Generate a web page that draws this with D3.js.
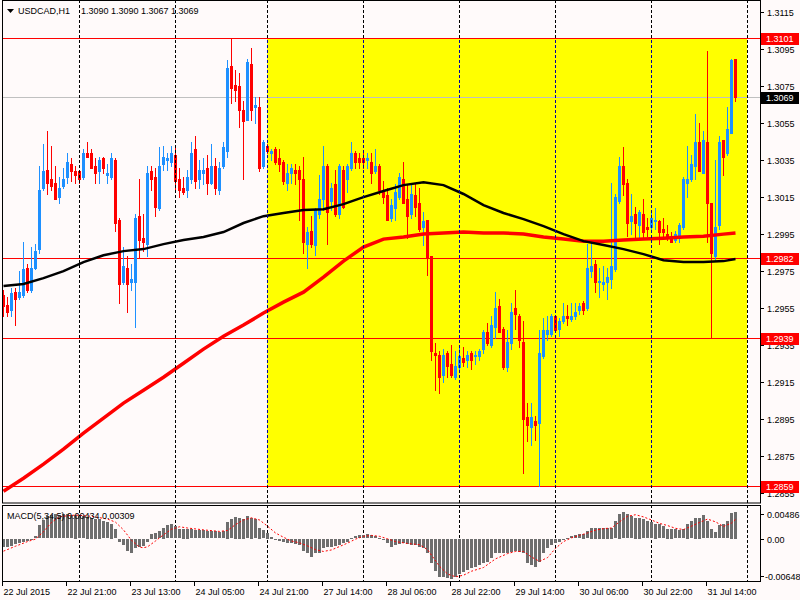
<!DOCTYPE html>
<html><head><meta charset="utf-8">
<script src="https://cdn.jsdelivr.net/npm/d3@7"></script>
<style>
body{margin:0;background:#FFFAFA;}
svg{display:block}
text{font-family:"Liberation Sans",Arial,sans-serif;font-size:9px;}
</style>
</head><body><svg id="c" width="800" height="600"></svg>
<script>
// ---------- DATA ----------
const symbolTitle = "USDCAD,H1";
const titleValues = "1.3090 1.3090 1.3067 1.3069";
const macdTitle = "MACD(5,34,5) 0.00434 0.00309";

const open = [1.2962,1.2957,1.2954,1.2964,1.2961,1.2962,1.2977,1.2965,1.2977,1.2987,
1.3020,1.3030,1.3025,1.3023,1.3015,1.3021,1.3026,1.3033,1.3029,1.3029,
1.3026,1.3039,1.3039,1.3032,1.3029,1.3036,1.3027,1.3026,1.3035,1.3003,
1.2969,1.2977,1.2969,1.2969,1.3005,1.2993,1.2990,1.3029,1.3026,1.3009,
1.3033,1.3035,1.3034,1.3038,1.3025,1.3020,1.3019,1.3025,1.3041,1.3025,
1.3028,1.3031,1.3023,1.3032,1.3019,1.3032,1.3040,1.3086,1.3076,1.3075,
1.3062,1.3057,1.3087,1.3064,1.3064,1.3032,1.3043,1.3039,1.3041,1.3036,
1.3034,1.3023,1.3028,1.3030,1.3030,1.3025,1.2990,1.2997,1.2989,1.3006,
1.3014,1.3032,1.3013,1.3022,1.3006,1.3030,1.3025,1.3031,1.3039,1.3036,
1.3036,1.3035,1.3034,1.3029,1.3032,1.3018,1.3016,1.3004,1.3009,1.3015,
1.3025,1.3014,1.3006,1.3016,1.3012,1.2999,1.3003,1.2983,1.2931,1.2930,
1.2919,1.2931,1.2925,1.2918,1.2923,1.2928,1.2927,1.2931,1.2929,1.2929,
1.2933,1.2942,1.2935,1.2945,1.2956,1.2944,1.2923,1.2936,1.2955,1.2951,
1.2937,1.2896,1.2891,1.2894,1.2893,1.2929,1.2941,1.2941,1.2951,1.2944,
1.2948,1.2951,1.2949,1.2951,1.2954,1.2958,1.2955,1.2975,1.2979,1.2969,
1.2968,1.2969,1.2971,1.2976,1.3013,1.3032,1.3023,1.3002,1.3006,1.3000,
1.3006,1.2999,1.2999,1.3002,1.3002,1.2998,1.2995,1.2993,1.2992,1.2993,
1.2999,1.3023,1.3025,1.3032,1.3045,1.3028,1.3045,1.3012,1.2983,1.3000,
1.3046,1.3039,1.3050,1.3090];
const high = [1.2965,1.2961,1.2966,1.2966,1.2975,1.2991,1.2979,1.2988,1.2990,1.3032,
1.3044,1.3051,1.3043,1.3032,1.3026,1.3031,1.3039,1.3036,1.3032,1.3030,
1.3041,1.3045,1.3041,1.3036,1.3037,1.3037,1.3033,1.3039,1.3036,1.3004,
1.2988,1.2983,1.2979,1.3006,1.3025,1.3006,1.3032,1.3032,1.3031,1.3042,
1.3043,1.3039,1.3043,1.3043,1.3031,1.3026,1.3030,1.3045,1.3048,1.3035,
1.3036,1.3038,1.3044,1.3036,1.3034,1.3045,1.3089,1.3101,1.3084,1.3082,
1.3067,1.3090,1.3096,1.3069,1.3069,1.3046,1.3044,1.3041,1.3042,1.3041,
1.3035,1.3033,1.3033,1.3033,1.3032,1.3037,1.2999,1.3005,1.3009,1.3027,
1.3043,1.3033,1.3023,1.3030,1.3033,1.3032,1.3033,1.3045,1.3040,1.3039,
1.3039,1.3039,1.3039,1.3041,1.3033,1.3024,1.3020,1.3014,1.3022,1.3028,
1.3034,1.3022,1.3022,1.3023,1.3020,1.3007,1.3003,1.2983,1.2936,1.2932,
1.2933,1.2932,1.2935,1.2932,1.2934,1.2934,1.2932,1.2932,1.2932,1.2933,
1.2943,1.2947,1.2951,1.2964,1.2960,1.2945,1.2943,1.2958,1.2965,1.2952,
1.2948,1.2904,1.2904,1.2897,1.2943,1.2950,1.2951,1.2952,1.2951,1.2950,
1.2958,1.2957,1.2958,1.2958,1.2958,1.2959,1.2990,1.2991,1.2981,1.2977,
1.2978,1.2977,1.3023,1.3017,1.3037,1.3042,1.3025,1.3017,1.3010,1.3008,
1.3014,1.3004,1.3007,1.3009,1.3003,1.3004,1.3000,1.2996,1.2997,1.3001,
1.3026,1.3043,1.3038,1.3060,1.3055,1.3051,1.3094,1.3012,1.3035,1.3048,
1.3046,1.3064,1.3090,1.3090];
const low = [1.2951,1.2951,1.2951,1.2946,1.2960,1.2961,1.2964,1.2964,1.2976,1.2985,
1.3019,1.3017,1.3019,1.3014,1.3012,1.3020,1.3023,1.3024,1.3023,1.3023,
1.3025,1.3037,1.3031,1.3023,1.3023,1.3028,1.3023,1.3025,1.2997,1.2958,
1.2968,1.2953,1.2965,1.2945,1.2982,1.2986,1.2983,1.3019,1.3005,1.3008,
1.3030,1.3030,1.3032,1.3019,1.3015,1.3017,1.3015,1.3023,1.3020,1.3020,
1.3022,1.3017,1.3022,1.3017,1.3017,1.3031,1.3037,1.3066,1.3067,1.3053,
1.3025,1.3057,1.3057,1.3055,1.3029,1.3031,1.3039,1.3035,1.3033,1.3029,
1.3022,1.3019,1.3023,1.3022,1.3003,1.2985,1.2977,1.2988,1.2984,1.3004,
1.3008,1.2990,1.3008,1.3005,1.3004,1.3009,1.3018,1.3030,1.3031,1.3031,
1.3031,1.3031,1.3023,1.3028,1.3017,1.3012,1.3003,1.3002,1.3003,1.3014,
1.3012,1.2993,1.3004,1.3005,1.2997,1.2989,1.2973,1.2927,1.2911,1.2909,
1.2915,1.2918,1.2918,1.2917,1.2922,1.2924,1.2923,1.2922,1.2925,1.2927,
1.2931,1.2935,1.2934,1.2939,1.2942,1.2922,1.2921,1.2933,1.2944,1.2934,
1.2866,1.2883,1.2881,1.2884,1.2859,1.2928,1.2938,1.2940,1.2942,1.2940,
1.2947,1.2946,1.2948,1.2949,1.2952,1.2952,1.2954,1.2972,1.2964,1.2961,
1.2965,1.2960,1.2966,1.2975,1.3012,1.3016,1.2994,1.2995,1.2992,1.2993,
1.2993,1.2994,1.2996,1.2998,1.2990,1.2994,1.2992,1.2991,1.2991,1.2991,
1.2998,1.3015,1.3024,1.3025,1.3029,1.3028,1.2991,1.2939,1.2981,1.2998,
1.3027,1.3038,1.3050,1.3067];
const close = [1.2956,1.2953,1.2963,1.2960,1.2964,1.2976,1.2965,1.2977,1.2986,1.3019,
1.3029,1.3023,1.3021,1.3014,1.3020,1.3025,1.3034,1.3029,1.3027,1.3025,
1.3039,1.3037,1.3031,1.3028,1.3035,1.3031,1.3028,1.3036,1.3001,1.2968,
1.2978,1.2968,1.2971,1.3004,1.2992,1.2991,1.3028,1.3025,1.3010,1.3032,
1.3037,1.3036,1.3039,1.3024,1.3019,1.3018,1.3026,1.3039,1.3024,1.3030,
1.3030,1.3023,1.3032,1.3020,1.3031,1.3042,1.3085,1.3074,1.3073,1.3062,
1.3056,1.3088,1.3062,1.3065,1.3031,1.3045,1.3040,1.3040,1.3034,1.3033,
1.3024,1.3028,1.3031,1.3028,1.3025,1.2991,1.2996,1.2990,1.3008,1.3014,
1.3032,1.3007,1.3020,1.3006,1.3032,1.3010,1.3032,1.3039,1.3034,1.3034,
1.3034,1.3036,1.3028,1.3032,1.3019,1.3015,1.3003,1.3011,1.3018,1.3026,
1.3012,1.3005,1.3017,1.3010,1.2998,1.3002,1.2982,1.2932,1.2930,1.2918,
1.2930,1.2924,1.2919,1.2924,1.2929,1.2926,1.2930,1.2927,1.2930,1.2932,
1.2942,1.2936,1.2946,1.2955,1.2942,1.2923,1.2937,1.2953,1.2952,1.2938,
1.2895,1.2892,1.2896,1.2892,1.2931,1.2943,1.2943,1.2951,1.2943,1.2948,
1.2951,1.2950,1.2951,1.2953,1.2956,1.2954,1.2977,1.2978,1.2969,1.2970,
1.2969,1.2972,1.2978,1.3015,1.3032,1.3022,1.3001,1.3005,1.3001,1.3007,
1.2996,1.2998,1.3004,1.3003,1.2996,1.2996,1.2993,1.2991,1.2995,1.3000,
1.3025,1.3025,1.3033,1.3045,1.3029,1.3046,1.3012,1.2985,1.2999,1.3045,
1.3037,1.3052,1.3089,1.3069];

// moving averages (bar index, price)
const maBlackBars = [0,5,10,15,20,25,30,35,40,45,50,55,60,65,70,75,80,85,90,95,100,105,110,115,120,125,130,135,140,145,150,155,160,165,170,175,180,183];
const maBlackVals = [1.29670,1.29681,1.29713,1.29751,1.29800,1.29837,1.29859,1.29870,1.29897,1.29919,1.29935,1.29962,1.30011,1.30048,1.30065,1.30081,1.30086,1.30113,1.30151,1.30184,1.30216,1.30232,1.30216,1.30168,1.30108,1.30065,1.30032,1.29994,1.29951,1.29913,1.29892,1.29870,1.29843,1.29810,1.29800,1.29800,1.29805,1.29816];
const maRedBars = maBlackBars;
const maRedVals = [1.28561,1.28631,1.28707,1.28788,1.28875,1.28956,1.29037,1.29107,1.29177,1.29253,1.29329,1.29399,1.29459,1.29524,1.29583,1.29637,1.29718,1.29805,1.29881,1.29924,1.29935,1.29951,1.29957,1.29962,1.29957,1.29957,1.29951,1.29935,1.29924,1.29913,1.29913,1.29919,1.29924,1.29929,1.29935,1.29940,1.29951,1.29957];

// MACD histogram (one value per bar) and signal line samples
const macd = [-0.00134,-0.00125,-0.00109,-0.00086,-0.00070,-0.00053,-0.00032,-0.00005,0.00037,0.00211,
0.00296,0.00361,0.00373,0.00389,0.00373,0.00389,0.00389,0.00373,0.00385,0.00361,
0.00361,0.00352,0.00335,0.00319,0.00319,0.00280,0.00264,0.00243,0.00146,-0.00044,
-0.00097,-0.00190,-0.00222,-0.00151,-0.00125,-0.00113,-0.00044,0.00081,0.00092,0.00118,
0.00173,0.00211,0.00227,0.00199,0.00146,0.00157,0.00157,0.00146,0.00134,0.00134,
0.00130,0.00118,0.00118,0.00118,0.00102,0.00118,0.00271,0.00308,0.00352,0.00335,
0.00319,0.00361,0.00335,0.00308,0.00173,0.00134,0.00092,0.00028,-0.00016,-0.00028,
-0.00044,-0.00060,-0.00070,-0.00081,-0.00097,-0.00190,-0.00232,-0.00287,-0.00232,-0.00232,
-0.00151,-0.00125,-0.00125,-0.00113,-0.00097,-0.00070,-0.00044,0.00011,0.00037,0.00049,
0.00049,0.00065,0.00049,0.00037,0.00011,-0.00016,-0.00070,-0.00125,-0.00097,-0.00081,
-0.00070,-0.00081,-0.00097,-0.00097,-0.00125,-0.00151,-0.00222,-0.00394,-0.00514,-0.00620,
-0.00620,-0.00627,-0.00648,-0.00611,-0.00567,-0.00530,-0.00502,-0.00475,-0.00449,-0.00421,
-0.00384,-0.00368,-0.00313,-0.00232,-0.00232,-0.00222,-0.00222,-0.00206,-0.00190,-0.00206,
-0.00232,-0.00384,-0.00421,-0.00449,-0.00368,-0.00232,-0.00151,-0.00097,-0.00070,-0.00044,
-0.00016,0.00011,0.00037,0.00049,0.00065,0.00081,0.00118,0.00173,0.00173,0.00173,
0.00173,0.00173,0.00173,0.00280,0.00405,0.00426,0.00389,0.00361,0.00335,0.00335,
0.00308,0.00280,0.00264,0.00243,0.00227,0.00199,0.00157,0.00157,0.00146,0.00134,
0.00146,0.00243,0.00280,0.00335,0.00335,0.00373,0.00280,0.00146,0.00102,0.00211,
0.00227,0.00280,0.00420,0.00434];
const signalBars = [0,3,6,8,10,12,14,18,22,26,28,30,32,34,35,36,38,40,42,44,46,50,54,56,58,60,62,64,66,68,70,72,74,76,78,80,82,84,86,88,90,92,94,96,98,101,104,106,109,111,113,115,117,120,123,126,128,130,132,134,136,138,140,142,144,146,148,150,152,154,156,158,160,162,164,166,168,170,172,174,176,178,180,182,183];
const signalVals = [-0.00205,-0.00125,-0.00050,-0.00010,0.00110,0.00260,0.00355,0.00380,0.00360,0.00315,0.00265,0.00140,-0.00030,-0.00140,-0.00150,-0.00135,-0.00040,0.00060,0.00150,0.00190,0.00170,0.00140,0.00115,0.00130,0.00225,0.00300,0.00335,0.00300,0.00200,0.00090,0.00020,-0.00040,-0.00070,-0.00120,-0.00180,-0.00210,-0.00185,-0.00130,-0.00075,-0.00010,0.00035,0.00050,0.00035,-0.00005,-0.00050,-0.00080,-0.00100,-0.00180,-0.00450,-0.00575,-0.00620,-0.00595,-0.00530,-0.00470,-0.00330,-0.00245,-0.00210,-0.00210,-0.00300,-0.00370,-0.00310,-0.00160,-0.00050,0.00010,0.00050,0.00090,0.00135,0.00160,0.00170,0.00270,0.00360,0.00385,0.00350,0.00300,0.00245,0.00210,0.00165,0.00145,0.00200,0.00260,0.00315,0.00270,0.00195,0.00250,0.00309];

// axes
const priceTicks = [1.3115,1.3095,1.3075,1.3055,1.3035,1.3015,1.2995,1.2975,1.2955,1.2935,1.2915,1.2895,1.2875,1.2855];
const macdTicks = [0.00486,0.00,-0.00648];
const macdTickLabels = ["0.00486","0.00","-0.00648"];
const timeLabelBars = [0,16,32,48,64,80,96,112,128,144,160,176];
const timeLabels = ["22 Jul 2015","22 Jul 21:00","23 Jul 13:00","24 Jul 05:00","24 Jul 21:00","27 Jul 14:00","28 Jul 06:00","28 Jul 22:00","29 Jul 14:00","30 Jul 06:00","30 Jul 22:00","31 Jul 14:00"];
const daySeparatorBars = [19,43,66,90,114,138,162,186];
const levelPrices = [1.3101,1.2982,1.2939,1.2859];
const levelLabels = ["1.3101","1.2982","1.2939","1.2859"];
const bidPrice = 1.3069, bidLabel = "1.3069";
const zoneStartBar = 66, zoneEndBar = 186, zoneTop = 1.3101, zoneBottom = 1.2859;

// ---------- LAYOUT ----------
const L = 2, R = 760, mainTop = 0, mainBottom = 503, macdTop = 505, macdBottom = 581;
const svg = d3.select("#c");
svg.append("rect").attr("width",800).attr("height",600).attr("fill","#FFFAFA");

const x = d3.scaleLinear().domain([0,186]).range([3.5,747.5]);
const y = d3.scaleLinear().domain([1.28497,1.31217]).range([mainBottom, mainTop]);
const my = d3.scaleLinear().domain([-0.00648,0.00486]).range([578.5,508.5]);

const defs = svg.append("defs");
defs.append("clipPath").attr("id","mainClip").append("rect")
  .attr("x",L+1).attr("y",mainTop).attr("width",R-L-1).attr("height",mainBottom-mainTop);
defs.append("clipPath").attr("id","macdClip").append("rect")
  .attr("x",L+1).attr("y",macdTop+1).attr("width",R-L-1).attr("height",macdBottom-macdTop-1);

const main = svg.append("g").attr("clip-path","url(#mainClip)");

// yellow zone
const zTop = Math.round(y(zoneTop)), zBot = Math.round(y(zoneBottom));
main.append("rect")
  .attr("x",Math.floor(x(zoneStartBar))).attr("y",zTop)
  .attr("width",Math.floor(x(zoneEndBar)) - Math.floor(x(zoneStartBar)))
  .attr("height",zBot - zTop)
  .attr("fill","#FFFF00");

// day separators (black on white, dark blue over the yellow zone)
const grid = svg.append("g");
daySeparatorBars.forEach(b => {
  const inZone = b >= zoneStartBar && b < zoneEndBar;
  const segs = inZone ? [[0,zTop,"#000"],[zTop,zBot,"#0000A0"],[zBot,macdBottom,"#000"]] : [[0,macdBottom,"#000"]];
  segs.forEach(s => {
    grid.append("line").attr("x1",x(b)).attr("x2",x(b)).attr("y1",s[0]).attr("y2",s[1])
      .attr("stroke",s[2]).attr("stroke-width",1).attr("stroke-dasharray","3,2")
      .attr("stroke-dashoffset", s[0] % 5);
  });
});

// horizontal level lines
main.append("line").attr("x1",L).attr("x2",R).attr("y1",Math.round(y(bidPrice))+0.5).attr("y2",Math.round(y(bidPrice))+0.5)
  .attr("stroke","#C0C0C0").attr("stroke-width",1);
levelPrices.forEach(p => {
  const yy = Math.round(y(p))+0.5;
  main.append("line").attr("x1",L).attr("x2",R).attr("y1",yy).attr("y2",yy)
    .attr("stroke","#FF0000").attr("stroke-width",1);
});

// candles
const candles = main.append("g");
open.forEach((o,i) => {
  const c = close[i], h = high[i], l = low[i];
  const col = c >= o ? "#1E90FF" : "#FF0000";
  const cx = Math.round(x(i) - 0.5);
  const yh = Math.round(y(h)), yl = Math.round(y(l));
  candles.append("rect").attr("x",cx).attr("y",yh).attr("width",1).attr("height",Math.max(1,yl-yh+1)).attr("fill",col);
  const yt = Math.round(y(Math.max(o,c))), yb = Math.round(y(Math.min(o,c)));
  candles.append("rect").attr("x",cx-1).attr("y",yt).attr("width",3).attr("height",Math.max(1,yb-yt+1)).attr("fill",col);
});

// moving averages
const maLine = d3.line().x(d=>x(d[0])).y(d=>y(d[1]));
main.append("path").datum(maRedBars.map((b,i)=>[b,maRedVals[i]])).attr("d",maLine)
  .attr("fill","none").attr("stroke","#FF0000").attr("stroke-width",3.5);
main.append("path").datum(maBlackBars.map((b,i)=>[b,maBlackVals[i]])).attr("d",maLine)
  .attr("fill","none").attr("stroke","#000").attr("stroke-width",2.5);

// MACD
const mg = svg.append("g").attr("clip-path","url(#macdClip)");
macd.forEach((v,i) => {
  const y0 = my(0), y1 = my(v);
  const top = Math.round(Math.min(y0,y1)), h = Math.max(1, Math.round(Math.abs(y1-y0)));
  mg.append("rect").attr("x",Math.round(x(i)-1.5)).attr("y",top).attr("width",3).attr("height",h).attr("fill","#6E6E6E");
});
mg.append("path").datum(signalBars.map((b,i)=>[b,signalVals[i]]))
  .attr("d",d3.line().x(d=>x(d[0])).y(d=>my(d[1])))
  .attr("fill","none").attr("stroke","#FF0000").attr("stroke-width",1).attr("stroke-dasharray","2,2");

// frames
const fr = svg.append("g").attr("stroke","#000").attr("stroke-width",1).attr("fill","none");
fr.append("rect").attr("x",L+0.5).attr("y",0.5).attr("width",R-L).attr("height",mainBottom-0.5);
fr.append("rect").attr("x",L+0.5).attr("y",macdTop+0.5).attr("width",R-L).attr("height",macdBottom-macdTop);

// price axis
const ax = svg.append("g");
priceTicks.forEach(p => {
  const yy = Math.round(y(p))+0.5;
  ax.append("line").attr("x1",R).attr("x2",R+4).attr("y1",yy).attr("y2",yy).attr("stroke","#000");
  ax.append("text").attr("x",R+7).attr("y",yy).attr("dy","0.35em").attr("fill","#000").text(p.toFixed(4));
});
function boxLabel(p, txt, bg) {
  const yy = Math.round(y(p));
  ax.append("rect").attr("x",R+1).attr("y",yy-5).attr("width",38).attr("height",12).attr("fill",bg);
  ax.append("text").attr("x",R+6).attr("y",yy+0.5).attr("dy","0.35em").attr("fill","#fff").text(txt);
}
levelPrices.forEach((p,i) => boxLabel(p, levelLabels[i], "#FF0000"));
boxLabel(bidPrice, bidLabel, "#000");

// MACD axis
macdTicks.forEach((v,i) => {
  const yy = Math.round(Math.max(514, Math.min(576, my(v))))+0.5;
  ax.append("line").attr("x1",R).attr("x2",R+4).attr("y1",yy).attr("y2",yy).attr("stroke","#000");
  ax.append("text").attr("x",R+(v<0?5:7)).attr("y",yy).attr("dy","0.35em").attr("fill","#000").text(macdTickLabels[i]);
});

// time axis
timeLabelBars.forEach((b,i) => {
  const xx = Math.floor(x(b)) - 0.5;
  ax.append("line").attr("x1",xx).attr("x2",xx).attr("y1",macdBottom+1).attr("y2",macdBottom+5).attr("stroke","#000");
  ax.append("text").attr("x",xx+1).attr("y",595).attr("fill","#000").text(timeLabels[i]);
});

// titles
svg.append("path").attr("d","M7,9 L14,9 L10.5,13 Z").attr("fill","#000");
svg.append("text").attr("x",18).attr("y",14).attr("fill","#000").text(symbolTitle);
svg.append("text").attr("x",81).attr("y",14).attr("fill","#000").text(titleValues);
svg.append("text").attr("x",7).attr("y",519).attr("fill","#000").text(macdTitle);
</script>
</body></html>
